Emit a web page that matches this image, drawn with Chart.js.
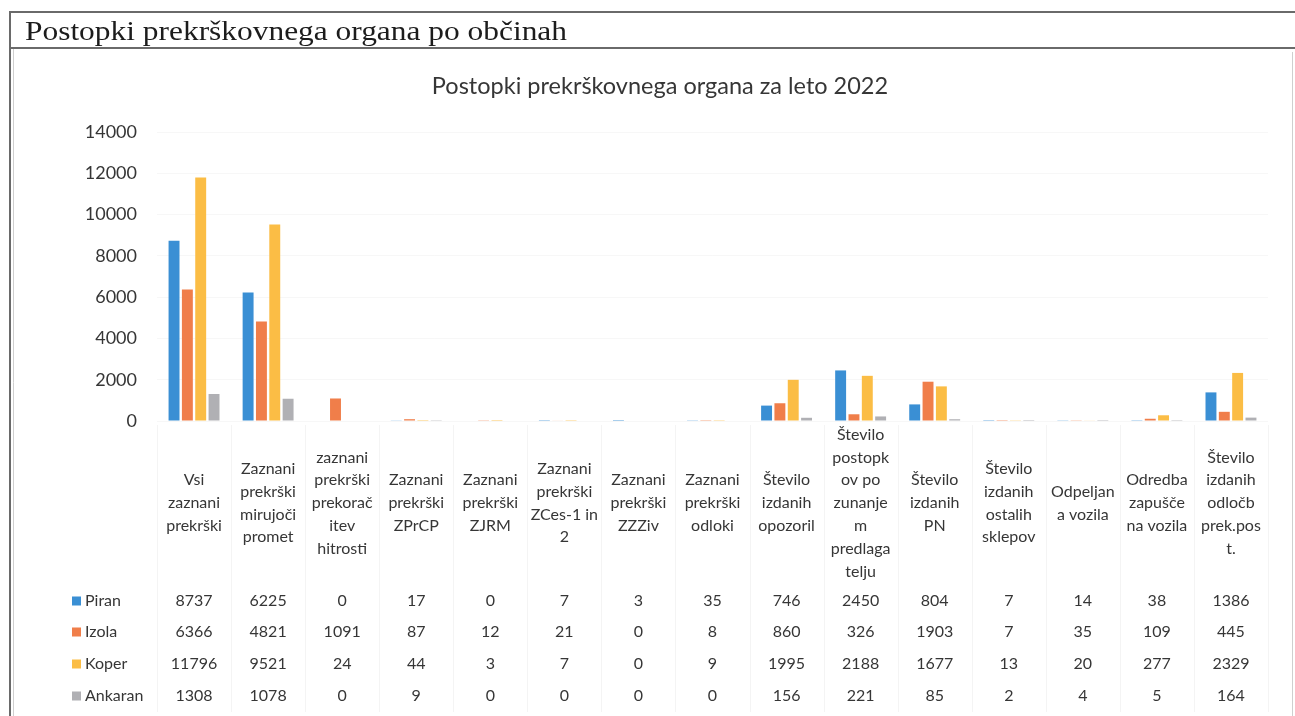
<!DOCTYPE html>
<html>
<head>
<meta charset="utf-8">
<script src="https://cdn.jsdelivr.net/npm/chart.js@4.4.0/dist/chart.umd.min.js"></script>
<style>
    html, body { margin: 0; padding: 0; background: #fff; }
    #wrap { position: relative; width: 1295px; height: 716px; }
</style>
</head>
<body>
<div id="wrap"><canvas id="chart" width="1295" height="716"></canvas></div>
<script>
var categories = [
    ['Vsi', 'zaznani', 'prekrški'],
    ['Zaznani', 'prekrški', 'mirujoči', 'promet'],
    ['zaznani', 'prekrški', 'prekorač', 'itev', 'hitrosti'],
    ['Zaznani', 'prekrški', 'ZPrCP'],
    ['Zaznani', 'prekrški', 'ZJRM'],
    ['Zaznani', 'prekrški', 'ZCes-1 in', '2'],
    ['Zaznani', 'prekrški', 'ZZZiv'],
    ['Zaznani', 'prekrški', 'odloki'],
    ['Število', 'izdanih', 'opozoril'],
    ['Število', 'postopk', 'ov po', 'zunanje', 'm', 'predlaga', 'telju'],
    ['Število', 'izdanih', 'PN'],
    ['Število', 'izdanih', 'ostalih', 'sklepov'],
    ['Odpeljan', 'a vozila'],
    ['Odredba', 'zapušče', 'na vozila'],
    ['Število', 'izdanih', 'odločb', 'prek.pos', 't.']
];
var piran   = [8737, 6225, 0, 17, 0, 7, 3, 35, 746, 2450, 804, 7, 14, 38, 1386];
var izola   = [6366, 4821, 1091, 87, 12, 21, 0, 8, 860, 326, 1903, 7, 35, 109, 445];
var koper   = [11796, 9521, 24, 44, 3, 7, 0, 9, 1995, 2188, 1677, 13, 20, 277, 2329];
var ankaran = [1308, 1078, 0, 9, 0, 0, 0, 0, 156, 221, 85, 2, 4, 5, 164];
var seriesNames = ['Piran', 'Izola', 'Koper', 'Ankaran'];
var yMin = 0, yMax = 14000, yStep = 2000;
var pageTitle = 'Postopki prekrškovnega organa po občinah';
var chartTitle = 'Postopki prekrškovnega organa za leto 2022';

var colors = ['#3a8fd4', '#f07e4a', '#fbbd45', '#b0b0b4'];
var textColor = '#363636';

// draws the Excel-style data table under the plot, plus the page frame
var tablePlugin = {
    id: 'dataTable',
    afterDraw: function (chart) {
        var ctx = chart.ctx;
        var xs = chart.scales.x;
        var area = chart.chartArea;
        var colW = (area.right - area.left) / categories.length;
        var rowY = [601, 632, 664, 696];
        var lineH = 22.8;

        ctx.save();
        ctx.strokeStyle = 'rgba(0,0,0,0.045)';
        ctx.lineWidth = 1;
        for (var i = 0; i <= categories.length; i++) {
            var lx = Math.round(area.left + i * colW) + 0.5;
            ctx.beginPath();
            ctx.moveTo(lx, area.bottom + 4);
            ctx.lineTo(lx, 712);
            ctx.stroke();
        }

        ctx.fillStyle = textColor;
        ctx.textAlign = 'center';
        ctx.textBaseline = 'middle';
        ctx.font = '16px Lato';
        categories.forEach(function (lines, i) {
            var cx = xs.getPixelForValue(i);
            var y0 = 503 - (lines.length - 1) * lineH / 2;
            lines.forEach(function (t, j) {
                ctx.fillText(t, cx, y0 + j * lineH);
            });
        });

        chart.data.datasets.forEach(function (ds, r) {
            var y = rowY[r];
            ctx.fillStyle = ds.backgroundColor;
            ctx.fillRect(72, y - 4.5, 9, 9);
            ctx.fillStyle = textColor;
            ctx.textAlign = 'left';
            ctx.font = '16px Lato';
            ctx.fillText(ds.label, 85, y);
            ctx.textAlign = 'center';
            ds.data.forEach(function (v, i) {
                ctx.fillText(String(v), xs.getPixelForValue(i), y);
            });
        });

        // chart title
        ctx.font = '23.5px Lato';
        ctx.fillText(chartTitle, 660, 86);

        // page frame and heading
        ctx.strokeStyle = '#6a6a6a';
        ctx.lineWidth = 2;
        ctx.beginPath();
        ctx.moveTo(9, 12); ctx.lineTo(1295, 12);
        ctx.moveTo(9, 48); ctx.lineTo(1295, 48);
        ctx.moveTo(10, 12); ctx.lineTo(10, 716);
        ctx.stroke();
        ctx.strokeStyle = '#cfcfcf';
        ctx.lineWidth = 1;
        ctx.beginPath();
        ctx.moveTo(13.5, 49); ctx.lineTo(13.5, 716);
        ctx.moveTo(1292.5, 52); ctx.lineTo(1292.5, 716);
        ctx.stroke();

        ctx.fillStyle = '#1c1c1c';
        ctx.textAlign = 'left';
        ctx.textBaseline = 'alphabetic';
        ctx.font = '28px "Liberation Serif"';
        var w = ctx.measureText(pageTitle).width;
        ctx.translate(25, 40);
        ctx.scale(542 / w, 1);
        ctx.fillText(pageTitle, 0, 0);
        ctx.restore();
    }
};

new Chart(document.getElementById('chart'), {
    type: 'bar',
    data: {
        labels: categories,
        datasets: seriesNames.map(function (name, k) {
            return {
                label: name,
                data: [piran, izola, koper, ankaran][k],
                backgroundColor: colors[k],
                categoryPercentage: 0.72,
                barPercentage: 0.82
            };
        })
    },
    options: {
        responsive: false,
        animation: false,
        layout: { padding: { top: 132, right: 27, bottom: 287, left: 0 } },
        plugins: {
            legend: { display: false },
            tooltip: { enabled: false },
            title: { display: false }
        },
        scales: {
            x: {
                ticks: { display: false },
                grid: { display: false },
                border: { display: false }
            },
            y: {
                min: yMin,
                max: yMax,
                afterFit: function (s) { s.width = 157; },
                ticks: {
                    stepSize: yStep,
                    color: textColor,
                    padding: 20,
                    font: { family: 'Lato', size: 18 },
                    callback: function (v) { return String(v); }
                },
                grid: { color: 'rgba(0,0,0,0.03)', drawTicks: false },
                border: { display: false }
            }
        }
    },
    plugins: [tablePlugin]
});
</script>
</body>
</html>
